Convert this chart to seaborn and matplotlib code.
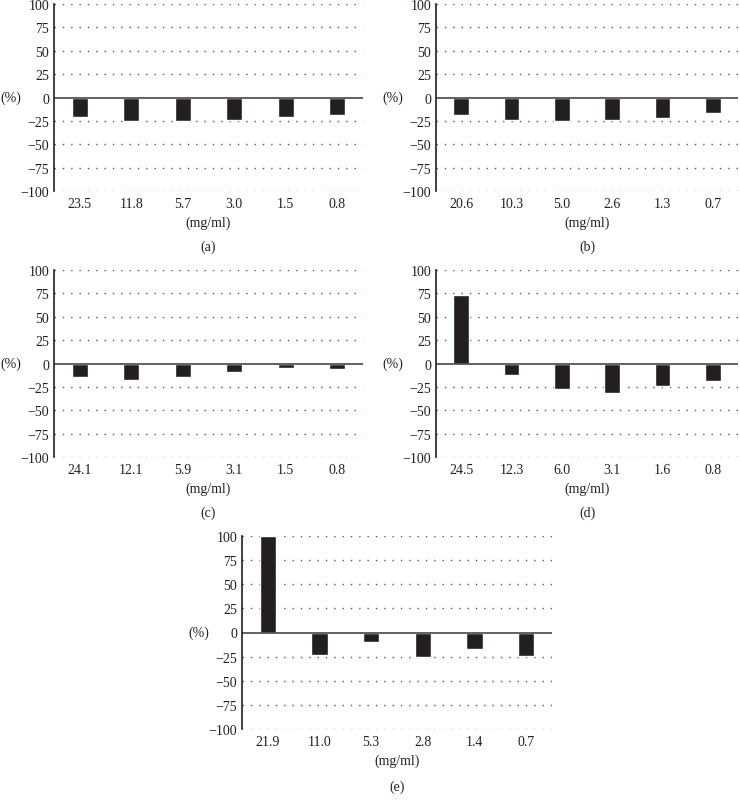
import numpy as np
import pandas as pd
import seaborn as sns
import matplotlib.pyplot as plt

# concentrations (mg/ml) and response (%) for each panel
conc_a = ["23.5", "11.8", "5.7", "3.0", "1.5", "0.8"]
pct_a = [-20.4, -25.4, -25.0, -23.6, -20.7, -18.2]
conc_b = ["20.6", "10.3", "5.0", "2.6", "1.3", "0.7"]
pct_b = [-19.0, -24.0, -25.0, -24.3, -21.8, -16.8]
conc_c = ["24.1", "12.1", "5.9", "3.1", "1.5", "0.8"]
pct_c = [-14.9, -17.8, -14.1, -9.0, -4.7, -5.4]
conc_d = ["24.5", "12.3", "6.0", "3.1", "1.6", "0.8"]
pct_d = [73.2, -12.1, -27.1, -31.8, -23.6, -18.9]
conc_e = ["21.9", "11.0", "5.3", "2.8", "1.4", "0.7"]
pct_e = [100.0, -23.3, -10.1, -25.0, -17.0, -24.7]

panel_names = ["(a)", "(b)", "(c)", "(d)", "(e)"]
yticks = [-100, -75, -50, -25, 0, 25, 50, 75, 100]

sns.set_theme(style="white")
plt.rcParams["font.family"] = ["Liberation Serif", "DejaVu Serif"]
plt.rcParams["font.size"] = 10

W, H = 740, 804
fig = plt.figure(figsize=(W / 100, H / 100), dpi=100)

# pixel boxes: left, right, top, bottom
boxes = [(54, 363, 5, 192), (436, 738, 5, 192),
         (54, 363, 271, 458), (436, 738, 271, 458),
         (242, 552, 537, 730)]
data = [(conc_a, pct_a), (conc_b, pct_b), (conc_c, pct_c),
        (conc_d, pct_d), (conc_e, pct_e)]

for (l, r, t, b), (conc, pct), name in zip(boxes, data, panel_names):
    ax = fig.add_axes([l / W, 1 - b / H, (r - l) / W, (b - t) / H])
    df = pd.DataFrame({"conc": conc, "pct": pct})
    sns.barplot(data=df, x="conc", y="pct", color="#231f20", width=0.31,
                saturation=1, ax=ax, zorder=3)
    ax.set_xlim(-0.5, 5.5)
    ax.set_ylim(-100, 100)
    ax.set_yticks(yticks)
    for yv in yticks:
        if yv != 0:
            ax.axhline(yv, color="#555555", lw=1.0, ls=(0, (1, 5)), zorder=1)
    ax.axhline(0, color="#555555", lw=1.3, zorder=4)
    for s in ["top", "right", "bottom"]:
        ax.spines[s].set_visible(False)
    ax.spines["left"].set_color("#231f20")
    ax.spines["left"].set_linewidth(1.2)
    ax.spines["left"].set_zorder(5)
    ax.tick_params(axis="both", length=0, labelsize=10, colors="#231f20")
    ax.tick_params(axis="x", pad=4)
    ax.tick_params(axis="y", pad=3.5)
    ax.set_xlabel("(mg/ml)", fontsize=10, color="#231f20", labelpad=4)
    ax.set_ylabel("")
    ax.annotate("(%)", xy=(0, 0), xycoords=("axes fraction", "data"),
                xytext=(-43, 0), textcoords="offset pixels",
                ha="center", va="center", fontsize=10, color="#231f20")
    ax.text(0.5, -0.295, name, transform=ax.transAxes, ha="center",
            va="center", fontsize=10, color="#231f20")

fig.savefig("out.png", dpi=100)
